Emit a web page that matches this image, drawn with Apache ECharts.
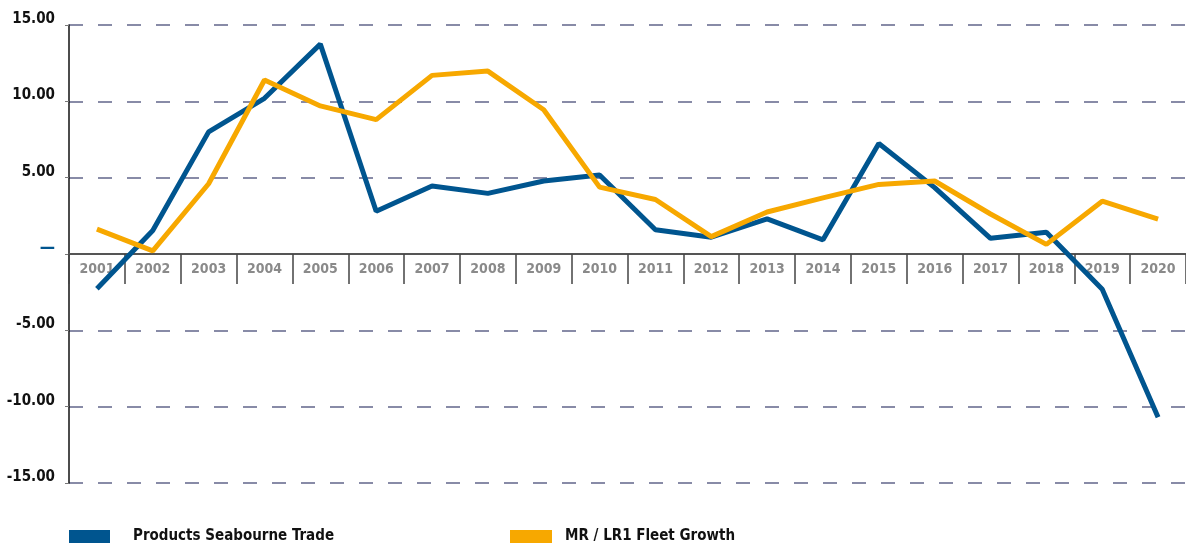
<!DOCTYPE html>
<html>
<head>
<meta charset="UTF-8">
<title>Products Trade vs Fleet Growth</title>
<script src="https://cdn.jsdelivr.net/npm/echarts@6/dist/echarts.min.js"></script>
<style>
  html, body { margin: 0; padding: 0; background: #fff; }
  #main { width: 1186px; height: 548px; }
</style>
</head>
<body>
<div id="main"></div>
<script type="text/javascript">
  var years = ['2001', '2002', '2003', '2004', '2005', '2006', '2007', '2008', '2009', '2010',
               '2011', '2012', '2013', '2014', '2015', '2016', '2017', '2018', '2019', '2020'];
  var tradeName = 'Products Seabourne Trade';
  var fleetName = 'MR / LR1 Fleet Growth';
  var tradeValues = [-2.27, 1.54, 8.0, 10.2, 13.75, 2.8, 4.45, 3.97, 4.78, 5.17,
                     1.59, 1.1, 2.3, 0.93, 7.24, 4.35, 1.03, 1.43, -2.31, -10.69];
  var fleetValues = [1.63, 0.2, 4.6, 11.4, 9.7, 8.8, 11.7, 11.98, 9.45, 4.38,
                     3.57, 1.14, 2.75, 3.68, 4.56, 4.78, 2.62, 0.63, 3.46, 2.29];

  var blue = '#00558f';
  var orange = '#f7a800';
  var condensed = "'DejaVu Sans Condensed', 'DejaVu Sans', sans-serif";

  var myChart = echarts.init(document.getElementById('main'));

  // the category axis sits on the zero line, half way down the grid
  var gridTop = 25, gridHeight = 458;

  var option = {
    animation: false,
    grid: { left: 69, top: gridTop, width: 1125, height: gridHeight },
    legend: [
      {
        data: [tradeName], left: 64, top: 524, icon: 'rect',
        itemWidth: 41, itemHeight: 13,
        textStyle: { fontFamily: condensed, fontWeight: 'bold', fontSize: 15, color: '#111', padding: [0, 0, 0, 18] }
      },
      {
        data: [fleetName], left: 505, top: 524, icon: 'rect',
        itemWidth: 42, itemHeight: 13,
        textStyle: { fontFamily: condensed, fontWeight: 'bold', fontSize: 15, color: '#111', padding: [0, 0, 0, 8] }
      }
    ],
    xAxis: {
      type: 'category',
      data: years,
      boundaryGap: true,
      offset: -(gridHeight / 2),
      axisLine: { onZero: false, lineStyle: { color: '#555', width: 2 } },
      axisTick: { show: true, length: 30, lineStyle: { color: '#444', width: 1.5 } },
      axisLabel: { fontFamily: condensed, fontWeight: 'bold', fontSize: 14, color: '#8a8a8a', margin: 8 },
      splitLine: { show: false }
    },
    yAxis: {
      type: 'value',
      min: -15, max: 15, interval: 5,
      axisLine: { show: true, lineStyle: { color: '#111', width: 1.5 } },
      axisTick: { show: true, length: 4, lineStyle: { color: '#777' } },
      axisLabel: {
        margin: 14,
        fontFamily: condensed, fontWeight: 'bold', fontSize: 15, color: '#111',
        formatter: function (v) {
          if (v === 0) return '{z|—}';
          return '{n|' + v.toFixed(2) + '}';
        },
        rich: {
          n: { fontFamily: condensed, fontWeight: 'bold', fontSize: 15, color: '#111', padding: [0, 0, 12, 0] },
          z: { fontFamily: condensed, fontWeight: 'bold', fontSize: 17, color: blue, padding: [0, 0, 10, 0] }
        }
      },
      splitLine: { show: true, lineStyle: { color: '#62668a', width: 1.5, type: [14, 15] } }
    },
    series: [
      {
        name: tradeName, type: 'line', data: tradeValues,
        showSymbol: false, symbol: 'none',
        lineStyle: { color: blue, width: 5 },
        itemStyle: { color: blue }
      },
      {
        name: fleetName, type: 'line', data: fleetValues,
        showSymbol: false, symbol: 'none',
        lineStyle: { color: orange, width: 5 },
        itemStyle: { color: orange }
      }
    ]
  };

  myChart.setOption(option);
</script>
</body>
</html>
